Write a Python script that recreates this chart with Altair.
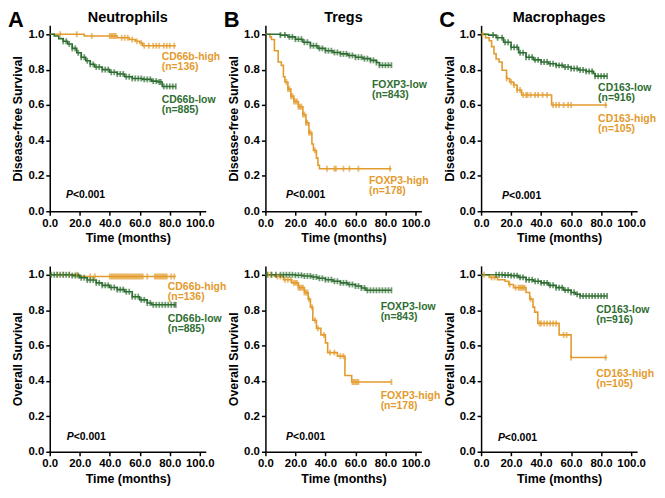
import altair as alt
import pandas as pd

ORANGE = "#E39B2E"
GREEN = "#2F6E32"
FONT = "Liberation Sans"

X_TICKS = [0, 20, 40, 60, 80, 100]
Y_TICKS = [0.0, 0.2, 0.4, 0.6, 0.8, 1.0]

# ---------- Neutrophils, disease-free survival ----------
a1_high_t = [0, 23, 45, 53, 57, 60, 62, 84]
a1_high_s = [1.0, 0.99, 0.98, 0.97, 0.96, 0.95, 0.935, 0.935]
a1_high_c = [7, 18, 28, 40, 41, 42, 43, 44, 48, 50, 52, 55, 58, 61, 63, 66, 69, 71, 73, 76, 78, 80, 83]
a1_low_t = [0, 3, 6, 9, 12, 15, 18, 21, 24, 27, 30, 35, 40, 45, 50, 55, 62, 68, 72, 75, 84]
a1_low_s = [1.0, 0.99, 0.975, 0.96, 0.945, 0.92, 0.895, 0.87, 0.85, 0.83, 0.815, 0.8, 0.785,
            0.775, 0.76, 0.75, 0.745, 0.735, 0.73, 0.705, 0.705]
a1_low_c = [9, 11, 13, 15, 17, 19, 21, 23, 25, 27, 29, 31, 33, 35, 37, 39, 41, 43, 45, 47, 49,
            51, 53, 55, 57, 59, 61, 63, 65, 67, 69, 71, 73, 74, 76, 78, 80, 82, 84]

# ---------- Tregs, disease-free survival ----------
b1_high_t = [0, 3, 4, 6, 8.5, 10.6, 12, 13, 15, 17, 19, 22, 25, 27, 29, 31, 32, 34, 35, 36, 84]
b1_high_s = [1.0, 0.985, 0.97, 0.907, 0.843, 0.824, 0.76, 0.73, 0.69, 0.65, 0.62, 0.59, 0.546,
             0.5, 0.444, 0.38, 0.343, 0.3, 0.26, 0.24, 0.24]
b1_high_c = [14, 15, 16, 17, 18, 19, 20, 21, 22, 23, 24, 25, 26, 27, 28, 29, 30, 33, 41, 46, 47,
             52, 56, 62, 83]
b1_low_t = [0, 10, 15, 20, 25, 30, 35, 40, 45, 50, 55, 60, 65, 70, 74, 76, 84]
b1_low_s = [1.0, 0.995, 0.985, 0.972, 0.955, 0.935, 0.92, 0.907, 0.897, 0.889, 0.88, 0.87,
            0.862, 0.852, 0.84, 0.825, 0.825]
b1_low_c = [10, 13, 16, 18, 20, 22, 24, 26, 28, 30, 32, 34, 36, 38, 40, 42, 44, 46, 48, 50, 52,
            54, 56, 58, 60, 62, 64, 66, 68, 70, 72, 74, 76, 78, 80, 82, 84]

# ---------- Macrophages, disease-free survival ----------
c1_high_t = [0, 3, 5.4, 7, 8.6, 10, 12, 14, 17, 19, 21.6, 24, 27, 47, 84]
c1_high_s = [1.0, 0.98, 0.963, 0.93, 0.89, 0.86, 0.843, 0.796, 0.75, 0.73, 0.713, 0.685, 0.657,
             0.6, 0.6]
c1_high_c = [1, 17, 20, 22, 24, 26, 28, 30, 31, 33, 36, 38, 41, 44, 48, 50, 52, 55, 58, 60, 83]
c1_low_t = [0, 5, 10, 15, 20, 25, 30, 35, 40, 45, 50, 55, 60, 65, 70, 75, 76, 84]
c1_low_s = [1.0, 0.995, 0.98, 0.955, 0.926, 0.895, 0.87, 0.855, 0.843, 0.833, 0.824, 0.815,
            0.806, 0.798, 0.79, 0.778, 0.763, 0.763]
c1_low_c = [8, 11, 14, 16, 18, 20, 22, 24, 26, 28, 30, 32, 34, 36, 38, 40, 42, 44, 46, 48, 50,
            52, 54, 56, 58, 60, 62, 64, 66, 68, 70, 72, 74, 76, 78, 80, 82, 84]

# ---------- Neutrophils, overall survival ----------
a2_high_t = [0, 20, 84]
a2_high_s = [1.0, 0.99, 0.99]
a2_high_c = [5, 9, 13, 18, 27, 30, 40, 41, 42, 43, 44, 45, 46, 47, 48, 49, 50, 51, 52, 53, 54,
             55, 56, 57, 58, 59, 60, 61, 62, 65, 70, 71, 72, 73, 74, 75, 76, 77, 78, 81, 83]
a2_low_t = [0, 15, 20, 25, 31, 35, 40, 45, 50, 55, 60, 65, 68, 84]
a2_low_s = [1.0, 0.995, 0.983, 0.97, 0.954, 0.94, 0.928, 0.916, 0.904, 0.876, 0.858, 0.84,
            0.83, 0.83]
a2_low_c = [1, 3, 5, 7, 9, 11, 13, 15, 17, 19, 21, 23, 25, 27, 29, 31, 33, 35, 37, 39, 41, 43,
            45, 47, 49, 51, 53, 55, 57, 59, 61, 63, 65, 67, 69, 71, 73, 75, 77, 79, 81, 83, 84]

# ---------- Tregs, overall survival ----------
b2_high_t = [0, 6, 12, 17.6, 22, 26, 28.5, 30, 31.6, 34, 37, 40, 41.5, 48, 53, 57.5, 84]
b2_high_s = [1.0, 0.99, 0.972, 0.954, 0.927, 0.9, 0.862, 0.817, 0.743, 0.697, 0.66, 0.615,
             0.56, 0.54, 0.431, 0.394, 0.394]
b2_high_c = [2, 4, 8, 10, 13, 15, 17, 19, 20, 21, 22, 23, 24, 25, 26, 27, 28, 29, 31, 33, 35,
             39, 43, 46, 50, 52, 58, 59, 60, 61, 62, 84]
b2_low_t = [0, 20, 25, 31, 35, 40, 45, 50, 55, 60, 64, 67, 84]
b2_low_s = [1.0, 0.997, 0.993, 0.987, 0.98, 0.972, 0.963, 0.954, 0.945, 0.936, 0.925, 0.912,
            0.912]
b2_low_c = [1, 4, 7, 10, 12, 14, 16, 18, 20, 22, 24, 26, 28, 30, 32, 34, 36, 38, 40, 42, 44,
            46, 48, 50, 52, 54, 56, 58, 60, 62, 64, 66, 68, 70, 72, 74, 76, 78, 80, 82, 84]

# ---------- Macrophages, overall survival ----------
c2_high_t = [0, 5.4, 11, 16, 18.4, 21.6, 30, 32.4, 34.6, 35.7, 37.8, 52, 60, 84]
c2_high_s = [1.0, 0.985, 0.972, 0.963, 0.945, 0.927, 0.9, 0.862, 0.817, 0.789, 0.725, 0.66,
             0.532, 0.532]
c2_high_c = [2, 7, 9, 19, 23, 25, 26, 27, 28, 29, 33, 39, 40, 42, 44, 46, 48, 50, 55, 57, 60, 83]
c2_low_t = [0, 15, 20, 25, 30, 35, 40, 45, 50, 55, 60, 63, 66, 84]
c2_low_s = [1.0, 0.998, 0.995, 0.985, 0.972, 0.963, 0.954, 0.94, 0.927, 0.913, 0.9, 0.89, 0.88,
            0.88]
c2_low_c = [10, 12, 14, 16, 18, 20, 22, 24, 26, 28, 30, 32, 34, 36, 38, 40, 42, 44, 46, 48, 50,
            52, 54, 56, 58, 60, 62, 64, 66, 68, 70, 72, 74, 76, 78, 80, 82, 84]

# ---------- annotations ----------
panel_titles = ["Neutrophils", "Tregs", "Macrophages"]
panel_letters = ["A", "B", "C"]
high_names = ["CD66b-high", "FOXP3-high", "CD163-high"]
low_names = ["CD66b-low", "FOXP3-low", "CD163-low"]
high_n = ["(n=136)", "(n=178)", "(n=105)"]
low_n = ["(n=885)", "(n=843)", "(n=916)"]
# label positions (x in months, y of first line)
dfs_high_lab = [(74.6, 0.87), (69, 0.17), (78, 0.522)]
dfs_low_lab = [(74.6, 0.63), (71, 0.713), (78, 0.694)]
os_high_lab = [(78.7, 0.928), (76.8, 0.312), (76.7, 0.44)]
os_low_lab = [(78.7, 0.75), (76.8, 0.817), (76.7, 0.798)]
dfs_p = [(10.8, 0.09), (13.8, 0.093), (14, 0.085)]
os_p = [(11.3, 0.083), (13.8, 0.083), (11.2, 0.08)]
p_text = "<0.001"

W, H = 157, 187
XD = [0, 104]
YD = [0, 1.05]


def step_value(ts, ss, c):
    v = ss[0]
    for t, s in zip(ts, ss):
        if t <= c:
            v = s
    return v


def panel(high_t, high_s, high_c, low_t, low_s, low_c, idx, hi_lab, lo_lab, ppos, ytitle, top):
    curves = pd.DataFrame(
        [{"g": "high", "t": t, "s": s} for t, s in zip(high_t, high_s)]
        + [{"g": "low", "t": t, "s": s} for t, s in zip(low_t, low_s)]
    )
    cens = pd.DataFrame(
        [{"g": "high", "t": c, "s": step_value(high_t, high_s, c)} for c in high_c]
        + [{"g": "low", "t": c, "s": step_value(low_t, low_s, c)} for c in low_c]
    )
    labels = pd.DataFrame([
        {"g": "high", "t": hi_lab[0], "s": hi_lab[1], "txt": high_names[idx]},
        {"g": "high", "t": hi_lab[0], "s": hi_lab[1] - 0.056, "txt": high_n[idx]},
        {"g": "low", "t": lo_lab[0], "s": lo_lab[1], "txt": low_names[idx]},
        {"g": "low", "t": lo_lab[0], "s": lo_lab[1] - 0.056, "txt": low_n[idx]},
    ])
    pdf = pd.DataFrame([{"t": ppos[0], "s": ppos[1], "p": "P", "rest": p_text}])

    xaxis = alt.Axis(values=X_TICKS, format=".1f", title="Time (months)", labelOverlap=False,
                     labelFlush=False)
    yaxis = alt.Axis(values=Y_TICKS, format=".1f", title=ytitle, labelOverlap=False,
                     labelFlush=False)
    xs = alt.Scale(domain=XD, nice=False)
    ys = alt.Scale(domain=YD, nice=False)
    col = alt.Color("g:N", scale=alt.Scale(domain=["high", "low"], range=[ORANGE, GREEN]),
                    legend=None)

    def X():
        return alt.X("t:Q", scale=xs, axis=xaxis)

    def Y():
        return alt.Y("s:Q", scale=ys, axis=yaxis)

    lines = alt.Chart(curves).mark_line(interpolate="step-after", strokeWidth=1.6).encode(
        x=X(), y=Y(), color=col, detail="g:N")
    ticks = alt.Chart(cens).mark_tick(orient="vertical", size=6, thickness=1.8).encode(
        x=X(), y=Y(), color=col)
    labs = alt.Chart(labels).mark_text(align="left", baseline="middle", font=FONT,
                                       fontWeight="bold", fontSize=10.5).encode(
        x=X(), y=Y(), text="txt:N", color=col)
    p1 = alt.Chart(pdf).mark_text(align="left", baseline="middle", font=FONT, fontWeight="bold",
                                  fontStyle="italic", fontSize=10.5, color="black").encode(
        x=X(), y=Y(), text="p:N")
    p2 = alt.Chart(pdf).mark_text(align="left", baseline="middle", font=FONT, fontWeight="bold",
                                  fontSize=10.5, dx=7, color="black").encode(
        x=X(), y=Y(), text="rest:N")
    layers = [lines, ticks, labs, p1, p2]
    if top:
        ldf = pd.DataFrame([{"L": panel_letters[idx], "T": panel_titles[idx]}])
        letter = alt.Chart(ldf).mark_text(align="left", baseline="middle", font=FONT,
                                          fontWeight="bold", fontSize=22, color="black").encode(
            x=alt.value(-42), y=alt.value(-5), text="L:N")
        ttl = alt.Chart(ldf).mark_text(align="center", baseline="middle", font=FONT,
                                       fontWeight="bold", fontSize=14.5, color="black").encode(
            x=alt.value(W / 2), y=alt.value(-7), text="T:N")
        layers += [letter, ttl]
    return alt.layer(*layers).properties(width=W, height=H)


panels = [
    panel(a1_high_t, a1_high_s, a1_high_c, a1_low_t, a1_low_s, a1_low_c, 0,
          dfs_high_lab[0], dfs_low_lab[0], dfs_p[0], "Disease-free Survival", True),
    panel(b1_high_t, b1_high_s, b1_high_c, b1_low_t, b1_low_s, b1_low_c, 1,
          dfs_high_lab[1], dfs_low_lab[1], dfs_p[1], "Disease-free Survival", True),
    panel(c1_high_t, c1_high_s, c1_high_c, c1_low_t, c1_low_s, c1_low_c, 2,
          dfs_high_lab[2], dfs_low_lab[2], dfs_p[2], "Disease-free Survival", True),
    panel(a2_high_t, a2_high_s, a2_high_c, a2_low_t, a2_low_s, a2_low_c, 0,
          os_high_lab[0], os_low_lab[0], os_p[0], "Overall Survival", False),
    panel(b2_high_t, b2_high_s, b2_high_c, b2_low_t, b2_low_s, b2_low_c, 1,
          os_high_lab[1], os_low_lab[1], os_p[1], "Overall Survival", False),
    panel(c2_high_t, c2_high_s, c2_high_c, c2_low_t, c2_low_s, c2_low_c, 2,
          os_high_lab[2], os_low_lab[2], os_p[2], "Overall Survival", False),
]

chart = alt.concat(*panels, columns=3, spacing={"row": 55, "column": 60},
                   bounds="flush").properties(
    padding=0
).configure_view(stroke=None).configure_axis(
    grid=False,
    domainColor="black", domainWidth=1.5,
    tickColor="black", tickWidth=1.5, tickSize=4,
    labelFont=FONT, labelFontWeight="bold", labelFontSize=11.5, labelColor="black",
    titleFont=FONT, titleFontWeight="bold", titleFontSize=12.5, titleColor="black",
    labelPadding=2, titlePadding=3,
)

chart.save("out.html", embed_options={"renderer": "svg", "actions": False})
